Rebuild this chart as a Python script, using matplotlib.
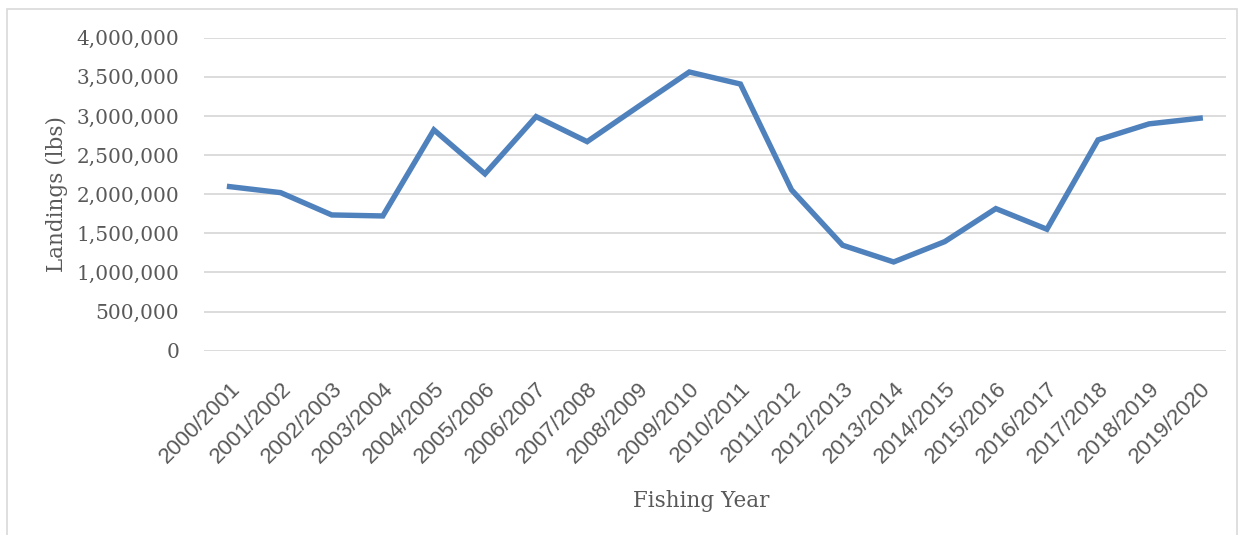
import matplotlib.pyplot as plt
from matplotlib.patches import Rectangle
from matplotlib.ticker import FuncFormatter, MultipleLocator

years = ['2000/2001', '2001/2002', '2002/2003', '2003/2004', '2004/2005',
         '2005/2006', '2006/2007', '2007/2008', '2008/2009', '2009/2010',
         '2010/2011', '2011/2012', '2012/2013', '2013/2014', '2014/2015',
         '2015/2016', '2016/2017', '2017/2018', '2018/2019', '2019/2020']
landings = [2097000, 2020000, 1735000, 1722000, 2822000,
            2260000, 2992000, 2672000, 3120000, 3562000,
            3408000, 2056000, 1348000, 1134000, 1394000,
            1816000, 1552000, 2694000, 2899000, 2972000]

grey = '#595959'
serif = 'DejaVu Serif'
sans = 'Liberation Sans'

fig = plt.figure(figsize=(12.44, 5.35), dpi=100)
ax = fig.add_axes([0.164, 0.3445, 0.8213, 0.585])

# chart frame
fig.patches.append(Rectangle((0.0056, -0.05), 0.9888, 1.033, transform=fig.transFigure,
                             fill=False, edgecolor='#D9D9D9', linewidth=1.2))

x = list(range(len(years)))
ax.plot(x, landings, color='#4F81BD', linewidth=3.9, solid_joinstyle='miter', zorder=3)

ax.set_xlim(-0.5, len(years) - 0.5)
ax.set_ylim(0, 4000000)
ax.yaxis.set_major_locator(MultipleLocator(500000))
ax.yaxis.set_major_formatter(FuncFormatter(lambda v, p: '{:,.0f}'.format(v)))
ax.grid(axis='y', color='#D9D9D9', linewidth=1.3)
ax.set_axisbelow(True)
for s in ax.spines.values():
    s.set_visible(False)

ax.set_xticks(x)
ax.set_xticklabels(years, rotation=45, ha='right', va='top', rotation_mode='anchor',
                   fontfamily=sans, fontsize=16, color=grey)
ax.tick_params(axis='both', length=0)
ax.tick_params(axis='x', pad=20)
ax.tick_params(axis='y', pad=18)
for t in ax.get_yticklabels():
    t.set_fontfamily(serif)
    t.set_fontsize(14.5)
    t.set_color(grey)

ax.set_ylabel('Landings (lbs)', fontfamily=serif, fontsize=15.5, color=grey, labelpad=6)
ax.set_xlabel('Fishing Year', fontfamily=serif, fontsize=15.5, color=grey, labelpad=8)
ax.xaxis.set_label_coords(0.487, -0.445)

fig.savefig('out.png', dpi=100)
